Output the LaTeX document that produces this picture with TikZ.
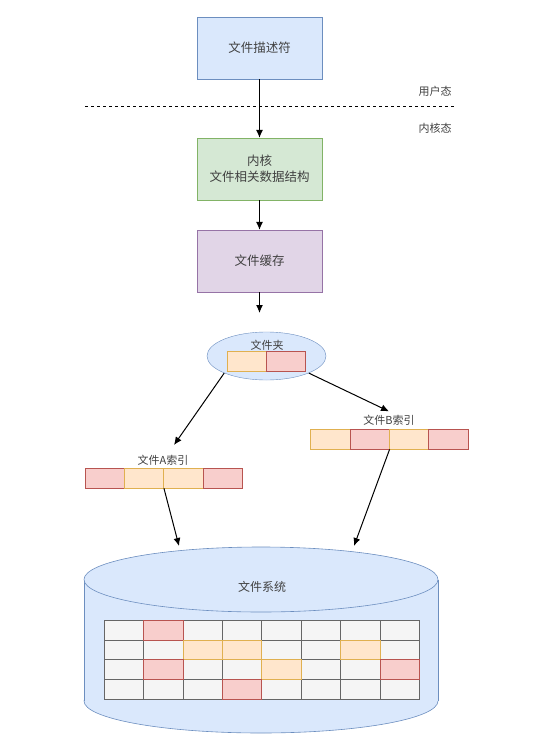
\documentclass[tikz,border=0pt]{standalone}
\usepackage{fontspec}
\setmainfont{Noto Sans CJK SC}
\usepackage{xcolor}
\usetikzlibrary{shapes, arrows, arrows.meta, positioning, calc}

\definecolor{bluefill}{HTML}{DAE8FC}
\definecolor{blueline}{HTML}{6C8EBF}
\definecolor{greenfill}{HTML}{D5E8D4}
\definecolor{greenline}{HTML}{82B366}
\definecolor{purfill}{HTML}{E1D5E7}
\definecolor{purline}{HTML}{9673A6}
\definecolor{redfill}{HTML}{F8CECC}
\definecolor{redline}{HTML}{B85450}
\definecolor{orgfill}{HTML}{FFE6CC}
\definecolor{orgline}{HTML}{E0B050}
\definecolor{grayfill}{HTML}{F5F5F5}
\definecolor{grayline}{HTML}{666666}
\definecolor{txt}{HTML}{404040}

\tikzset{
  box/.style={draw, rectangle, minimum width=125pt, minimum height=62pt, inner sep=0pt,
    align=center, text=txt, font=\fontsize{12.5}{16}\selectfont},
  lab/.style={text=txt, font=\fontsize{11}{13}\selectfont},
  blk/.style={draw, rectangle, minimum width=39.4pt, minimum height=20pt, inner sep=0pt, line width=0.6pt},
  redcell/.style={blk, fill=redfill, draw=redline},
  orgcell/.style={blk, fill=orgfill, draw=orgline},
  graycell/.style={blk, fill=grayfill, draw=grayline, minimum height=19.8pt},
  arr/.style={-{Latex[length=8pt,width=7pt]}, line width=1pt}
}

\begin{document}
\begin{tikzpicture}[x=1pt, y=-1pt]
  \useasboundingbox (0,0) rectangle (541,747);

  % user space / kernel space
  \node[box, fill=bluefill, draw=blueline] (fd) at (259.5,48) {文件描述符};
  \coordinate (sepL) at (85,106);
  \coordinate (sepR) at (455,106);
  \draw[dash pattern=on 3pt off 3pt, line width=0.7pt] (sepL) -- (sepR);
  \node[lab] (user) at (435,91) {用户态};
  \node[lab] (kernel) at (435,128) {内核态};

  \node[box, fill=greenfill, draw=greenline] (kds) at (259.5,169) {内核\\文件相关数据结构};
  \node[box, fill=purfill, draw=purline] (cache) at (259.5,261) {文件缓存};
  \coordinate (cacheout) at (259.5,313);

  \draw[arr] (fd) -- (kds);
  \draw[arr] (kds) -- (cache);
  \draw[arr] (cache) -- (cacheout);

  % folder
  \node[ellipse, draw=blueline, fill=bluefill, minimum width=119pt, minimum height=48pt, inner sep=0pt] (folder) at (266.5,356) {};
  \node[lab] (foldername) at (267,345) {文件夹};
  \node[orgcell] (f1) at (246.5,361) {};
  \node[redcell] (f2) at (286,361) {};

  % index blocks
  \node[lab] (labA) at (163,460) {文件A索引};
  \foreach \i/\s in {1/redcell,2/orgcell,3/orgcell,4/redcell}
    \node[\s] (a\i) at ({85+(\i-0.5)*39.3},478) {};
  \node[lab] (labB) at (389,420) {文件B索引};
  \foreach \i/\s in {1/orgcell,2/redcell,3/orgcell,4/redcell}
    \node[\s] (b\i) at ({310.5+(\i-0.5)*39.4},439) {};

  \coordinate (tipA) at (174,445);
  \draw[arr] (folder.202) -- (tipA);
  \draw[arr] (folder.338) -- (labB.north);

  % file system
  \draw[draw=blueline, fill=bluefill, line width=0.6pt] (261,701) ellipse [x radius=177, y radius=32];
  \fill[bluefill] (84,579.5) rectangle (438,701);
  \draw[blueline, line width=0.6pt] (84,579.5) -- (84,701) (438,579.5) -- (438,701);
  \draw[draw=blueline, fill=bluefill, line width=0.6pt] (261,579.5) ellipse [x radius=177, y radius=32.5];
  \node[lab, font=\fontsize{12}{14}\selectfont] (fs) at (262,587) {文件系统};

  \foreach \c in {1,...,8}
    \foreach \r in {1,...,4}
      \node[graycell] (g\c\r) at ({104+(\c-0.5)*39.4},{620+(\r-0.5)*19.8}) {};
  \foreach \c/\r/\s in {2/1/redcell, 3/2/orgcell, 4/2/orgcell, 7/2/orgcell,
                        2/3/redcell, 5/3/orgcell, 8/3/redcell, 4/4/redcell}
    \node[\s, minimum height=19.8pt] at (g\c\r) {};

  \coordinate (fsA) at (179,546);
  \coordinate (fsB) at (354,546);
  \draw[arr] (a2.south east) -- (fsA);
  \draw[arr] (b2.south east) -- (fsB);
\end{tikzpicture}
\end{document}
